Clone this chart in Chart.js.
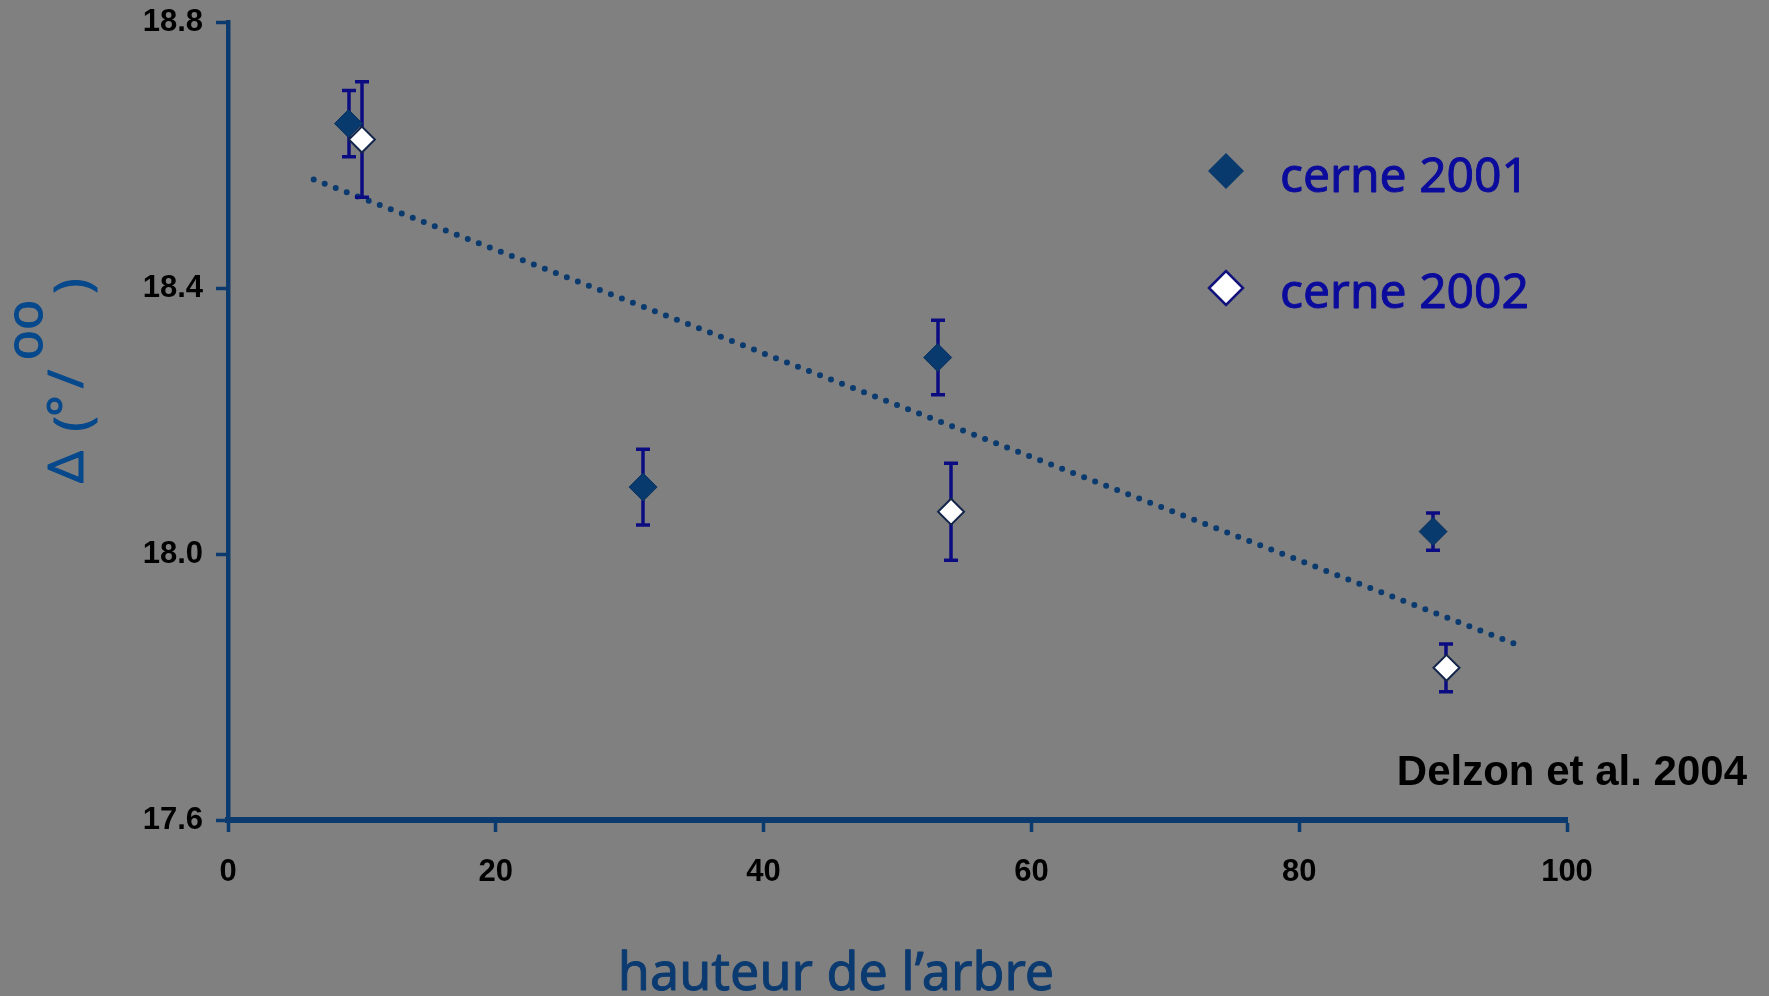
<!DOCTYPE html>
<html>
<head>
<meta charset="utf-8">
<script src="https://cdn.jsdelivr.net/npm/chart.js@4/dist/chart.umd.min.js"></script>
<style>
  html, body { margin: 0; padding: 0; background: #808080; overflow: hidden; }
  #wrap { width: 1769px; height: 996px; position: relative; }
  canvas { display: block; }
</style>
</head>
<body>
<div id="wrap"><canvas id="chart" width="1769" height="996"></canvas></div>
<script>
// Tree height (m) and carbon isotope discrimination for two growth rings
const xTickValues = [0, 20, 40, 60, 80, 100];
const xTickLabels = ['0', '20', '40', '60', '80', '100'];
const yTickValues = [17.6, 18.0, 18.4, 18.8];
const yTickLabels = ['17.6', '18.0', '18.4', '18.8'];

const height2001 = [9, 31, 53, 90];
const delta2001 = [18.648, 18.101, 18.296, 18.034];
const err2001 = [0.050, 0.057, 0.056, 0.028];

const height2002 = [10, 54, 91];
const delta2002 = [18.624, 18.064, 17.829];
const err2002 = [0.087, 0.073, 0.036];

const trendHeight = [6.4, 96];
const trendDelta = [18.564, 17.866];

const seriesLabels = ['cerne 2001', 'cerne 2002'];
const xTitle = 'hauteur de l\u2019arbre';
const sourceNote = 'Delzon et al. 2004';

const NAVY = '#0a3a6e';
const BAR = '#0c0c82';
const TEXT_FONT = '"Comic Sans MS", "Noto Sans", sans-serif';
const TICK_FONT = '"Liberation Sans", Arial, sans-serif';

const toPoints = (xs, ys) => xs.map((x, i) => ({ x: x, y: ys[i] }));

function diamond(ctx, x, y, r, fill, stroke, lw) {
  ctx.beginPath();
  ctx.moveTo(x - r, y);
  ctx.lineTo(x, y - r);
  ctx.lineTo(x + r, y);
  ctx.lineTo(x, y + r);
  ctx.closePath();
  ctx.fillStyle = fill;
  ctx.fill();
  if (lw > 0) {
    ctx.lineWidth = lw;
    ctx.strokeStyle = stroke;
    ctx.lineJoin = 'miter';
    ctx.stroke();
  }
}

// text with a slightly heavier stroke, closer to the rounded handwriting face
function heavyText(ctx, text, x, y, color, weight) {
  ctx.fillStyle = color;
  ctx.strokeStyle = color;
  ctx.lineWidth = weight;
  ctx.lineJoin = 'round';
  ctx.strokeText(text, x, y);
  ctx.fillText(text, x, y);
}

// Background fill
const background = {
  id: 'background',
  beforeDraw(chart) {
    const ctx = chart.ctx;
    ctx.save();
    ctx.fillStyle = '#808080';
    ctx.fillRect(0, 0, chart.width, chart.height);
    ctx.restore();
  }
};

// Vertical error bars, drawn right after the trend line so markers sit on top
const errorBars = {
  id: 'errorBars',
  afterDatasetDraw(chart, args) {
    if (args.index !== 2) return;
    const ctx = chart.ctx;
    const xs = chart.scales.x, ys = chart.scales.y;
    ctx.save();
    ctx.strokeStyle = BAR;
    ctx.lineWidth = 3.5;
    ctx.lineCap = 'butt';
    [0, 1].forEach(di => {
      const ds = chart.data.datasets[di];
      ds.data.forEach((p, i) => {
        const e = ds.errorBars[i];
        const px = Math.round(xs.getPixelForValue(p.x));
        const top = ys.getPixelForValue(p.y + e);
        const bot = ys.getPixelForValue(p.y - e);
        ctx.beginPath();
        ctx.moveTo(px, top);
        ctx.lineTo(px, bot);
        ctx.moveTo(px - 7, top);
        ctx.lineTo(px + 7, top);
        ctx.moveTo(px - 7, bot);
        ctx.lineTo(px + 7, bot);
        ctx.stroke();
      });
    });
    ctx.restore();
  }
};

// Legend, axis titles and source note
const annotations = {
  id: 'annotations',
  afterDraw(chart) {
    const ctx = chart.ctx;
    ctx.save();

    // legend
    const ds = chart.data.datasets;
    const legendRows = [
      { cy: 171, r: 18, baseline: 192 },
      { cy: 288, r: 17, baseline: 308 }
    ];
    legendRows.forEach((row, i) => {
      const d = ds[i];
      diamond(ctx, 1226, row.cy, row.r, d.backgroundColor, d.legendBorder, i === 0 ? 0 : 2.5);
      ctx.font = '48px ' + TEXT_FONT;
      ctx.textAlign = 'left';
      ctx.textBaseline = 'alphabetic';
      heavyText(ctx, d.label, 1280, row.baseline, '#0a0a9c', 0.9);
    });

    // x axis title
    ctx.font = '52px ' + TEXT_FONT;
    ctx.textAlign = 'center';
    ctx.textBaseline = 'alphabetic';
    heavyText(ctx, xTitle, 836, 990, '#0a3a70', 0.9);

    // y axis title, rotated; each glyph placed along the axis, "oo" raised
    ctx.save();
    ctx.translate(83, 482);
    ctx.rotate(-Math.PI / 2);
    ctx.font = '50px ' + TEXT_FONT;
    ctx.textAlign = 'center';
    ctx.textBaseline = 'alphabetic';
    const glyphs = [
      ['\u0394', 15, 0],
      ['(', 58, 6],
      ['\u00b0', 76, 0],
      ['/', 103, 0],
      ['oo', 152, -41],
      [')', 196, 6]
    ];
    glyphs.forEach(([g, u, v]) => heavyText(ctx, g, u, v, '#06488c', 1.0));
    ctx.restore();

    // source note
    ctx.fillStyle = '#000000';
    ctx.font = 'bold 42px ' + TICK_FONT;
    ctx.textAlign = 'right';
    ctx.fillText(sourceNote, 1747, 785);

    ctx.restore();
  }
};

const axisGrid = {
  display: true,
  drawOnChartArea: false,
  drawTicks: true,
  tickLength: 12,
  tickWidth: 3.5,
  tickColor: NAVY,
  color: NAVY
};

new Chart(document.getElementById('chart'), {
  type: 'scatter',
  data: {
    datasets: [
      {
        label: seriesLabels[0],
        data: toPoints(height2001, delta2001),
        errorBars: err2001,
        pointStyle: 'rectRot',
        pointRadius: 14,
        pointHoverRadius: 14,
        backgroundColor: '#083a6e',
        borderColor: '#0a3260',
        legendBorder: '#083a6e',
        borderWidth: 1,
        order: 2
      },
      {
        label: seriesLabels[1],
        data: toPoints(height2002, delta2002),
        errorBars: err2002,
        pointStyle: 'rectRot',
        pointRadius: 13,
        pointHoverRadius: 13,
        backgroundColor: '#ffffff',
        borderColor: '#14264c',
        legendBorder: '#12127e',
        borderWidth: 2,
        order: 1
      },
      {
        label: 'tendance',
        data: toPoints(trendHeight, trendDelta),
        showLine: true,
        pointRadius: 0,
        borderColor: NAVY,
        borderWidth: 6,
        borderDash: [0, 11.8],
        borderCapStyle: 'round',
        fill: false,
        order: 3
      }
    ]
  },
  options: {
    responsive: false,
    animation: false,
    devicePixelRatio: 1,
    events: [],
    layout: { padding: { left: 0, top: 22.6, right: 202, bottom: 0 } },
    plugins: {
      legend: { display: false },
      tooltip: { enabled: false },
      title: { display: false }
    },
    scales: {
      x: {
        type: 'linear',
        min: 0,
        max: 100,
        afterBuildTicks: s => { s.ticks = xTickValues.map(v => ({ value: v })); },
        afterFit: s => { s.height = 176; s.paddingLeft = 0; s.paddingRight = 0; },
        grid: axisGrid,
        border: { display: true, color: NAVY, width: 6 },
        ticks: {
          color: '#000000',
          font: { family: TICK_FONT, weight: 'bold', size: 31 },
          padding: 22,
          maxRotation: 0,
          autoSkip: false,
          callback: (v, i) => xTickLabels[i]
        }
      },
      y: {
        type: 'linear',
        min: 17.6,
        max: 18.8,
        afterBuildTicks: s => { s.ticks = yTickValues.map(v => ({ value: v })); },
        afterFit: s => { s.width = 228; s.paddingTop = 0; s.paddingBottom = 0; },
        grid: axisGrid,
        border: { display: true, color: NAVY, width: 4.5 },
        ticks: {
          color: '#000000',
          font: { family: TICK_FONT, weight: 'bold', size: 31 },
          padding: 13,
          autoSkip: false,
          callback: (v, i) => yTickLabels[i]
        }
      }
    }
  },
  plugins: [background, errorBars, annotations]
});
</script>
</body>
</html>
